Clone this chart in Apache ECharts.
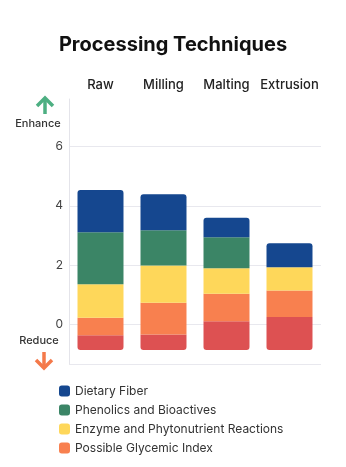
<!DOCTYPE html>
<html><head><meta charset="utf-8">
<script src="https://cdn.jsdelivr.net/npm/echarts@6/dist/echarts.min.js"></script>
<style>html,body{margin:0;padding:0;background:#fff}#c{width:346px;height:467px}</style>
</head><body><div id="c"></div>
<script>
const categories = ['Raw', 'Milling', 'Malting', 'Extrusion'];
const baseOffset = [-0.87, -0.87, -0.87, -0.87];
const redPart = [0.50, 0.53, 0.97, 1.12];
const glycemic = [0.59, 1.07, 0.93, 0.89];
const enzyme = [1.13, 1.26, 0.86, 0.79];
const phenolics = [1.76, 1.19, 1.05, 0];
const fiber = [1.43, 1.21, 0.66, 0.81];
const yTicks = [0, 2, 4, 6];
const legendNames = ['Dietary Fiber', 'Phenolics and Bioactives', 'Enzyme and Phytonutrient Reactions', 'Possible Glycemic Index'];

const FONT = 'Inter, Roboto, sans-serif';
const chart = echarts.init(document.getElementById('c'));
const common = { type: 'bar', stack: 'a', stackStrategy: 'all', barWidth: '73%', z: 5 };
chart.setOption({
  animation: false,
  textStyle: { fontFamily: FONT },
  title: { text: 'Processing Techniques', left: 'center', top: 30,
    textStyle: { fontSize: 20, fontWeight: 'bold', color: '#111', fontFamily: FONT } },
  legend: { data: legendNames, orient: 'vertical', left: 54, top: 380, itemWidth: 11, itemHeight: 11,
    itemGap: 7, icon: 'roundRect', textStyle: { fontSize: 12, color: '#333', fontFamily: FONT } },
  grid: { left: 69, right: 25, top: 99, bottom: 103 },
  xAxis: { type: 'category', data: categories, position: 'top',
    axisLine: { show: false }, axisTick: { show: false },
    axisLabel: { interval: 0, margin: 7, fontSize: 13, fontWeight: 500, color: '#222', fontFamily: FONT } },
  yAxis: { type: 'value', min: -1.34, max: 7.61,
    axisLine: { show: true, lineStyle: { color: '#e4e4ea' } },
    axisTick: { show: false }, splitLine: { show: false },
    axisLabel: { customValues: yTicks, margin: 6, fontSize: 12, color: '#444', fontFamily: FONT } },
  series: [
    Object.assign({}, common, { name: 'base', data: baseOffset, silent: true, z: 0, itemStyle: { color: 'rgba(0,0,0,0)' },
      markLine: { silent: true, symbol: 'none', label: { show: false }, z: 0,
        lineStyle: { color: '#e8e8ee', type: 'solid', width: 1 },
        data: yTicks.map(v => ({ yAxis: v })).concat([{ yAxis: -1.34 }]) } }),
    Object.assign({}, common, { name: 'Other', data: redPart, itemStyle: { color: '#dd5152', borderRadius: [0, 0, 3, 3] } }),
    Object.assign({}, common, { name: 'Possible Glycemic Index', data: glycemic, itemStyle: { color: '#f8804f' } }),
    Object.assign({}, common, { name: 'Enzyme and Phytonutrient Reactions', data: enzyme, itemStyle: { color: '#fed75a' } }),
    Object.assign({}, common, { name: 'Phenolics and Bioactives', data: phenolics, itemStyle: { color: '#3b8566' } }),
    Object.assign({}, common, { name: 'Dietary Fiber', data: fiber, itemStyle: { color: '#15478f', borderRadius: [3, 3, 0, 0] } })
  ],
  graphic: [
    { type: 'polyline', shape: { points: [[45, 114], [45, 99]] }, style: { stroke: '#4daf82', lineWidth: 3.5, fill: null } },
    { type: 'polyline', shape: { points: [[37, 106], [45, 98], [53, 106]] }, style: { stroke: '#4daf82', lineWidth: 3.5, fill: null, lineJoin: 'miter' } },
    { type: 'text', x: 38, y: 124, style: { text: 'Enhance', fontSize: 11, fontWeight: 500, fill: '#333', align: 'center', verticalAlign: 'middle', fontFamily: FONT } },
    { type: 'text', x: 39, y: 341, style: { text: 'Reduce', fontSize: 11, fontWeight: 500, fill: '#333', align: 'center', verticalAlign: 'middle', fontFamily: FONT } },
    { type: 'polyline', shape: { points: [[44, 352], [44, 367]] }, style: { stroke: '#f4794a', lineWidth: 3.5, fill: null } },
    { type: 'polyline', shape: { points: [[36, 360], [44, 368], [52, 360]] }, style: { stroke: '#f4794a', lineWidth: 3.5, fill: null, lineJoin: 'miter' } }
  ]
});
</script></body></html>
